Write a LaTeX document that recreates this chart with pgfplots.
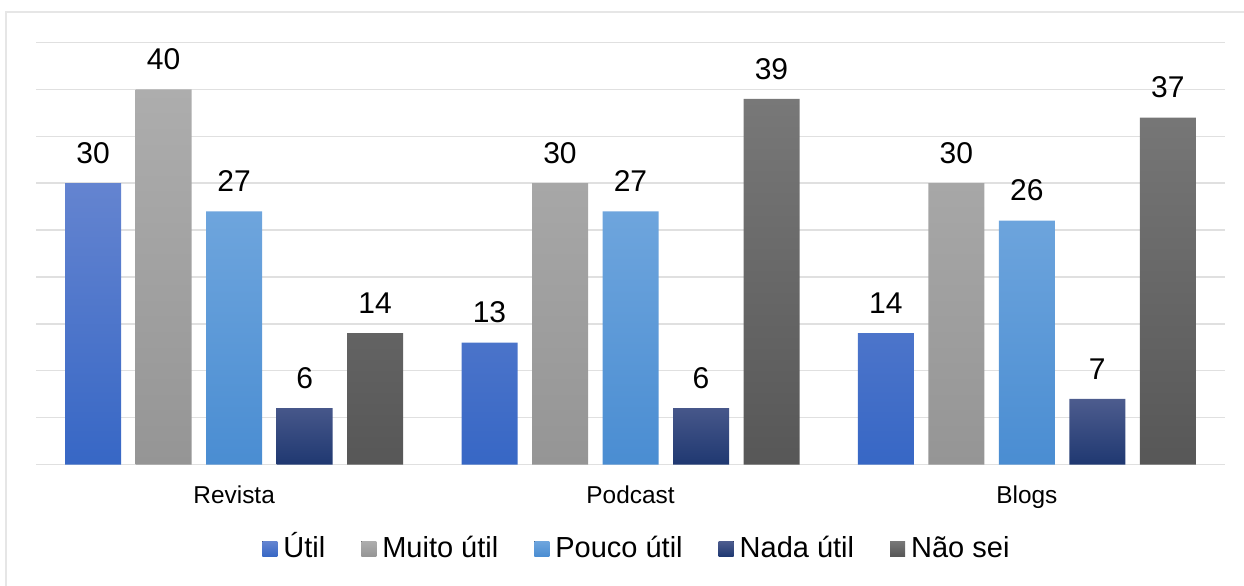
\documentclass[border=0pt]{standalone}
\usepackage{fontspec}
\setmainfont{Liberation Sans}
\usepackage{pgfplots}
\pgfplotsset{compat=1.18}

% bar gradients (top -> bottom)
\definecolor{utilTop}{HTML}{6484D0}
\definecolor{utilBot}{HTML}{3767C5}
\definecolor{muitoTop}{HTML}{ADADAD}
\definecolor{muitoBot}{HTML}{959595}
\definecolor{poucoTop}{HTML}{6EA5DD}
\definecolor{poucoBot}{HTML}{4A8DD2}
\definecolor{nadaTop}{HTML}{4D5C8E}
\definecolor{nadaBot}{HTML}{1F3871}
\definecolor{naoTop}{HTML}{787878}
\definecolor{naoBot}{HTML}{575757}
\definecolor{gridGray}{HTML}{E0E0E0}
\definecolor{frameGray}{HTML}{E6E6E6}

\begin{document}
\begin{tikzpicture}
\path[use as bounding box] (0,0) rectangle (622pt,292.5pt);
% chart frame
\draw[frameGray, line width=1pt] (3pt,-2pt) -- (3pt,286.5pt) -- (624pt,286.5pt);
\begin{axis}[
  at={(18pt,60.25pt)}, anchor=south west,
  scale only axis, width=594.5pt, height=211pt,
  ybar=7.25pt, bar width=28pt,
  xmin=-0.5, xmax=2.5, ymin=0, ymax=45,
  xtick={0,1,2}, xticklabels={Revista,Podcast,Blogs},
  ytick={0,5,...,45}, yticklabels={},
  ymajorgrids, grid style={draw=gridGray, line width=0.75pt},
  axis line style={draw=none},
  major tick length=0pt,
  xticklabel style={font=\fontsize{12.2}{14}\selectfont, anchor=north, inner sep=0pt, yshift=-10.25pt},
  nodes near coords={\pgfmathprintnumber[assume math mode=true]{\pgfplotspointmeta}},
  every node near coord/.append style={font=\fontsize{15}{18}\selectfont, anchor=south, inner sep=0pt, yshift=9.5pt, text=black},
  legend columns=5,
  legend style={
    at={(0.5046,-0.2000)}, anchor=center, draw=none, fill=none,
    inner sep=0pt, font=\fontsize{14.5}{17}\selectfont,
    nodes={inner sep=0pt},
    /tikz/every odd column/.append style={column sep=3pt},
    /tikz/every even column/.append style={column sep=18pt, text height=10.4pt, text depth=0pt},
  },
  legend image code/.code={\fill[#1] (0pt,-3.75pt) rectangle (7.5pt,3.75pt);},
]
\addplot[draw=none, top color=utilTop, bottom color=utilBot] coordinates {(0,30) (1,13) (2,14)};
\addplot[draw=none, top color=muitoTop, bottom color=muitoBot] coordinates {(0,40) (1,30) (2,30)};
\addplot[draw=none, top color=poucoTop, bottom color=poucoBot] coordinates {(0,27) (1,27) (2,26)};
\addplot[draw=none, top color=nadaTop, bottom color=nadaBot] coordinates {(0,6) (1,6) (2,7)};
\addplot[draw=none, top color=naoTop, bottom color=naoBot] coordinates {(0,14) (1,39) (2,37)};
\legend{Útil, Muito útil, Pouco útil, Nada útil, Não sei}
\end{axis}
\end{tikzpicture}
\end{document}
